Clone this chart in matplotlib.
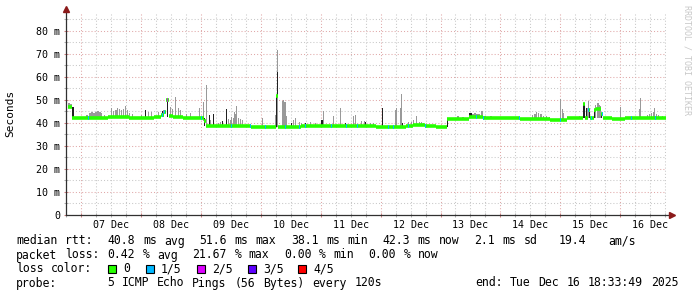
import numpy as np
import matplotlib
matplotlib.use('Agg')
import matplotlib.pyplot as plt
from matplotlib.patches import Rectangle

W, H = 697, 297
plt.rcParams['font.family'] = ['DejaVu Sans Mono']

# x values are days since 06 Dec 00:00, y values are ms
t_start, t_end = 0.7735, 10.7735

# median rtt, step breakpoints
med_day = [0.783, 0.850, 0.883, 1.450, 1.800, 2.083, 2.217, 2.333, 2.383, 2.417,
           2.467, 2.533, 2.700, 3.050, 3.083, 3.833, 4.250, 4.283, 4.667, 5.000,
           5.417, 5.917, 6.417, 6.533, 6.733, 6.917, 7.100, 7.483, 7.717, 8.333,
           8.833, 9.117, 9.383, 9.417, 9.467, 9.500, 9.567, 9.600, 9.683, 9.717,
           9.867, 10.083]
med_ms = [47.0, 42.2, 42.0, 42.6, 42.2, 42.0, 42.6, 43.3, 44.6, 50.0,
          43.0, 42.7, 42.0, 41.0, 38.8, 38.3, 51.7, 38.3, 38.6, 38.9,
          38.6, 38.2, 38.6, 39.3, 38.5, 38.3, 41.9, 42.4, 42.0, 41.8,
          41.4, 42.0, 48.2, 42.0, 45.5, 42.0, 45.6, 46.3, 44.0, 42.0,
          41.6, 42.0]

# steps with packet loss (number of lost pings out of 5)
loss_day = [1.117, 2.350, 2.383, 2.433, 3.000, 3.500, 3.817, 4.067, 4.400, 4.633,
            4.733, 5.167, 5.417, 5.600, 6.117, 6.200, 6.450, 6.733, 7.600, 7.717,
            8.317, 9.000, 9.467, 9.517, 9.700, 10.183, 10.583]
loss_n = [1, 1, 1, 2, 1, 1, 1, 1, 1, 1,
          1, 1, 1, 1, 1, 1, 1, 1, 1, 1,
          1, 1, 1, 1, 1, 1, 1]

# light smoke (spread of the pings)
smoke_day = [0.783, 0.817, 1.083, 1.133, 1.167, 1.200, 1.233, 1.267, 1.300, 1.333,
             1.383, 1.500, 1.533, 1.567, 1.600, 1.633, 1.667, 1.700, 1.733, 1.767,
             1.800, 1.850, 2.000, 2.117, 2.167, 2.283, 2.367, 2.483, 2.517, 2.567,
             2.617, 2.650, 2.750, 2.817, 2.967, 3.033, 3.083, 3.150, 3.283, 3.317,
             3.450, 3.483, 3.500, 3.533, 3.550, 3.567, 3.583, 3.617, 3.650, 3.683,
             4.017, 4.233, 4.267, 4.350, 4.367, 4.383, 4.400, 4.417, 4.533, 4.567,
             4.633, 4.667, 4.817, 4.900, 5.033, 5.200, 5.317, 5.533, 5.567, 5.667,
             5.717, 5.817, 5.867, 6.233, 6.250, 6.317, 6.333, 6.450, 6.500, 6.533,
             6.583, 6.633, 6.667, 6.700, 7.283, 7.367, 7.533, 7.567, 7.600, 7.633,
             7.683, 7.733, 7.833, 8.533, 8.567, 8.600, 8.633, 8.667, 8.717, 8.767,
             8.817, 9.000, 9.033, 9.050, 9.317, 9.450, 9.467, 9.583, 9.617, 9.633,
             9.650, 9.667, 10.000, 10.317, 10.333, 10.450, 10.483, 10.517, 10.550, 10.567,
             10.600, 10.633, 10.700]
smoke_lo = [46.5, 46.5, 42.0, 42.0, 42.0, 42.0, 42.0, 42.0, 42.0, 42.0,
            42.0, 42.0, 42.0, 42.5, 42.5, 42.5, 42.5, 42.5, 42.5, 42.5,
            42.0, 42.0, 42.0, 42.0, 42.0, 42.0, 42.5, 43.0, 43.0, 42.5,
            42.5, 42.5, 42.0, 42.0, 42.0, 41.0, 38.8, 38.5, 38.5, 38.5,
            38.5, 38.5, 38.5, 38.5, 38.5, 38.5, 38.5, 38.5, 38.5, 38.5,
            38.3, 38.3, 38.3, 38.3, 38.3, 38.3, 38.3, 38.3, 38.3, 38.3,
            38.5, 38.5, 38.5, 38.5, 38.5, 38.5, 38.5, 38.5, 38.5, 38.5,
            38.5, 38.3, 38.3, 38.3, 38.3, 38.3, 38.3, 38.5, 38.5, 38.5,
            38.5, 38.5, 38.5, 38.5, 41.8, 41.8, 42.0, 42.0, 42.0, 42.0,
            42.0, 42.0, 41.8, 41.8, 41.8, 41.8, 41.8, 41.8, 41.8, 41.8,
            41.8, 41.5, 41.5, 41.5, 41.8, 42.0, 42.0, 42.0, 42.0, 42.0,
            42.0, 42.0, 41.8, 41.8, 41.8, 41.8, 41.8, 41.8, 41.8, 41.8,
            41.8, 41.8, 41.8]
smoke_hi = [48.5, 48.2, 43.6, 44.2, 44.8, 44.2, 44.8, 45.2, 44.6, 44.2,
            43.6, 46.5, 45.3, 45.8, 46.6, 46.2, 45.6, 46.0, 47.4, 45.5,
            44.4, 43.8, 43.6, 44.8, 44.6, 44.8, 45.5, 46.8, 46.0, 51.2,
            46.5, 45.8, 43.8, 44.3, 46.5, 49.3, 56.5, 41.5, 40.2, 40.6,
            41.6, 41.4, 42.8, 42.2, 44.9, 44.0, 47.4, 42.0, 41.6, 41.2,
            42.0, 43.5, 71.7, 49.5, 50.0, 49.2, 49.0, 43.0, 41.2, 42.0,
            40.6, 40.2, 40.6, 39.8, 45.4, 43.0, 46.4, 43.0, 43.5, 41.0,
            40.8, 40.0, 40.0, 45.8, 46.4, 46.4, 52.6, 40.4, 40.4, 41.1,
            43.0, 40.4, 40.4, 40.2, 43.0, 42.8, 44.0, 44.4, 43.8, 44.0,
            45.2, 43.2, 43.0, 43.6, 44.0, 44.9, 44.5, 43.8, 43.2, 43.0,
            42.8, 50.3, 46.0, 44.5, 43.0, 46.4, 49.7, 47.8, 48.6, 48.6,
            48.0, 47.2, 47.1, 46.0, 50.7, 43.6, 44.0, 44.4, 44.6, 46.4,
            44.0, 43.5, 43.0]

# dark smoke
dark_day = [0.850, 2.067, 2.350, 2.433, 3.050, 3.133, 3.200, 3.350, 3.417, 4.250,
            4.267, 4.500, 4.733, 5.000, 5.017, 5.400, 5.733, 6.017, 6.350, 7.100,
            7.483, 7.500, 9.383, 9.400, 9.433, 9.483, 9.567, 9.683]
dark_lo = [42.0, 42.0, 42.5, 42.5, 38.8, 38.5, 38.5, 38.5, 38.5, 38.3,
           51.7, 38.3, 38.5, 38.5, 38.5, 38.5, 38.3, 38.3, 38.3, 38.3,
           42.0, 42.0, 42.0, 42.0, 42.0, 42.0, 42.0, 42.0]
dark_hi = [47.0, 45.6, 45.0, 50.0, 42.0, 43.5, 44.0, 41.0, 46.0, 51.7,
           62.0, 40.0, 40.0, 41.5, 41.5, 40.0, 40.4, 46.4, 40.0, 42.0,
           44.5, 44.5, 48.6, 48.6, 46.4, 44.6, 46.0, 44.0]

loss_colors = {0: '#26ff00', 1: '#00b8ff', 2: '#dd00ff', 3: '#5e00ff', 4: '#ff0000'}
loss_labels = ['0', '1/5', '2/5', '3/5', '4/5']
day_labels = ['07 Dec', '08 Dec', '09 Dec', '10 Dec', '11 Dec',
              '12 Dec', '13 Dec', '14 Dec', '15 Dec', '16 Dec']

legend_lines = [
    'median rtt:  40.8 ms avg  51.6 ms max  38.1 ms min  42.3 ms now  2.1 ms sd   19.4   am/s',
    'packet loss: 0.42 % avg  21.67 % max  0.00 % min  0.00 % now',
    'loss color:',
    'probe:       5 ICMP Echo Pings (56 Bytes) every 120s',
]
end_text = 'end: Tue Dec 16 18:33:49 2025'


def fx(px):
    return px / W


def fy(py):
    return 1 - py / H


def mono_line(x0, y, s, cw=7.05, size=8.3):
    # rrdtool puts the legend on a fixed character grid
    col = 0
    for word in s.split(' '):
        if word:
            fig.text(fx(x0 + col * cw), fy(y), word, fontsize=size, va='center', ha='left')
        col += len(word) + 1


fig = plt.figure(figsize=(W / 100, H / 100), dpi=100)
ax = fig.add_axes([fx(66.4), fy(215), 600 / W, 203 / H])
ax.set_xlim(t_start, t_end)
ax.set_ylim(0, 88.26)

px = 1 / 60.0  # one pixel column in days

ax.bar(smoke_day, np.array(smoke_hi) - np.array(smoke_lo), bottom=smoke_lo,
       width=px * 1.2, color='#999999', linewidth=0, align='edge', zorder=2)
ax.bar(dark_day, np.array(dark_hi) - np.array(dark_lo), bottom=dark_lo,
       width=px * 1.2, color='#202020', linewidth=0, align='edge', zorder=3)

# median as short bars in loss colour (no vertical connectors, like smokeping)
seg_end = med_day[1:] + [t_end]
ax.hlines(med_ms, med_day, seg_end, color=loss_colors[0], lw=2.6, zorder=4)
for d, n in zip(loss_day, loss_n):
    i = np.searchsorted(med_day, d, side='right') - 1
    ax.hlines(med_ms[i], d, d + px, color=loss_colors[n], lw=2.6, zorder=5)

# grid
ax.set_xticks(np.arange(1, 11))
ax.set_xticks(np.arange(0.75, 10.8, 0.25), minor=True)
ax.set_yticks(np.arange(0, 81, 10))
ax.set_yticks(np.arange(5, 86, 10), minor=True)
ax.grid(which='major', color='#e0a8a8', ls=(0, (1, 2)), lw=0.75)
ax.grid(which='minor', color='#c8c8c8', ls=(0, (1, 2)), lw=0.75)
ax.set_axisbelow(True)
ax.set_xticklabels([])
ax.set_yticklabels(['0'] + ['%d m' % v for v in range(10, 81, 10)], fontsize=7.2)
ax.tick_params(which='both', direction='inout', length=3, width=0.75, pad=3)
ax.tick_params(axis='x', which='major', colors='#d08080')
ax.tick_params(axis='x', which='minor', colors='#b0b0b0')
ax.tick_params(axis='y', which='major', color='#d08080', labelcolor='black')
ax.tick_params(axis='y', which='minor', color='#b0b0b0')
for s in ax.spines.values():
    s.set_visible(False)

# axis lines with arrow heads
ax.plot([0, 1.009], [0, 0], transform=ax.transAxes, color='#303030', lw=0.9,
        clip_on=False, zorder=6)
ax.plot([0, 0], [0, 1.015], transform=ax.transAxes, color='#303030', lw=0.9,
        clip_on=False, zorder=6)
ax.plot([1.009], [0], transform=ax.transAxes, marker='>', ms=4, color='#8b1a1a',
        clip_on=False, zorder=7)
ax.plot([0], [1.015], transform=ax.transAxes, marker='^', ms=4, color='#8b1a1a',
        clip_on=False, zorder=7)

for i, lab in enumerate(day_labels):
    ax.text(i + 1.5, -4.2, lab, fontsize=7.2, ha='center', va='center', clip_on=False)

fig.text(fx(10), fy(113), 'Seconds', rotation=90, fontsize=8, ha='center', va='center')
fig.text(fx(687), fy(60), 'RRDTOOL / TOBI OETIKER', rotation=270, fontsize=6,
         color='#c8c8c8', ha='center', va='center')

# legend below the graph
for k, line in enumerate(legend_lines):
    mono_line(16, 241 + 14 * k, line)
box_x = [108, 146, 197, 248, 298]
for bx, (n, lab) in zip(box_x, enumerate(loss_labels)):
    fig.patches.append(Rectangle((fx(bx), fy(273)), 8 / W, 8 / H, transform=fig.transFigure,
                                 facecolor=loss_colors[n], edgecolor='black', lw=0.8))
    fig.text(fx(bx + 15), fy(269), lab, fontsize=8.3, va='center', ha='left')
mono_line(475, 283, end_text)

fig.savefig('out.png', dpi=100, facecolor='white')
